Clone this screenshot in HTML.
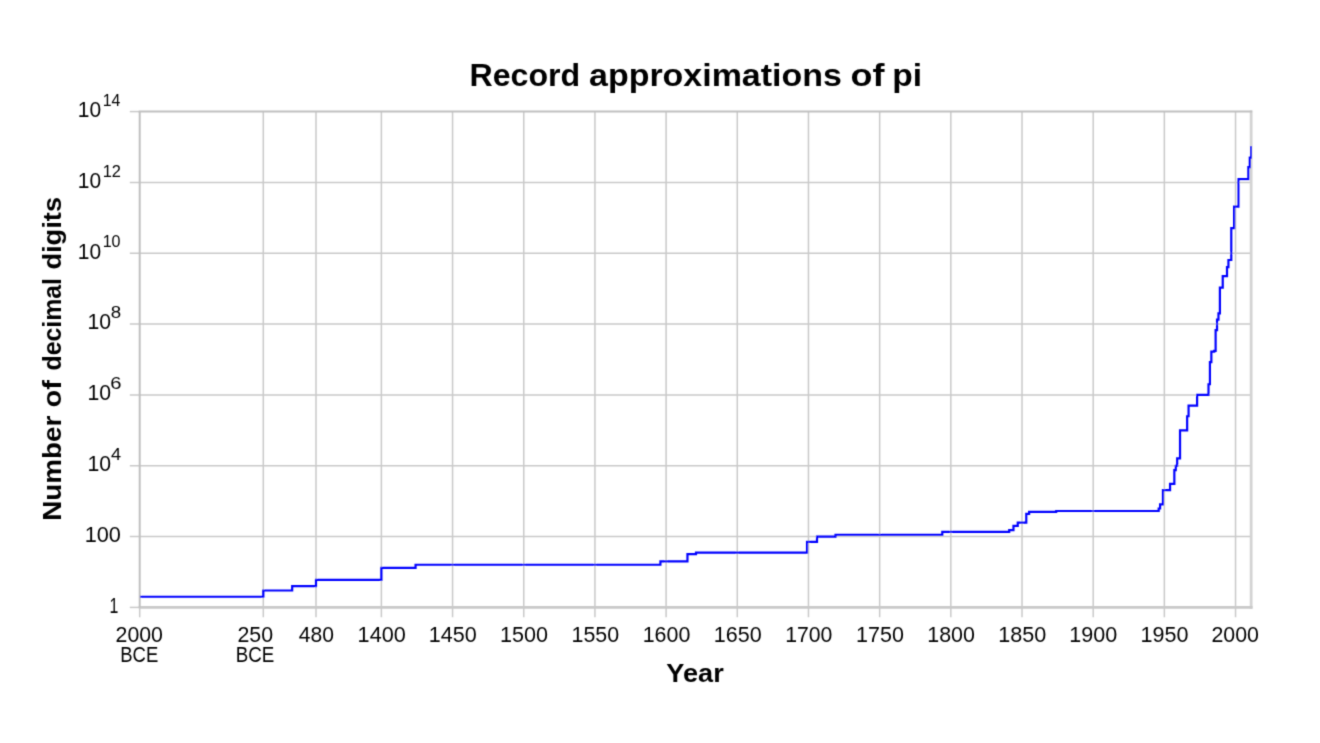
<!DOCTYPE html>
<html><head><meta charset="utf-8"><title>Record approximations of pi</title>
<style>
html,body{margin:0;padding:0;background:#fff;}
body{width:1320px;height:743px;overflow:hidden;font-family:"Liberation Sans",sans-serif;}
svg{display:block;}
text{font-family:"Liberation Sans",sans-serif;fill:#000;}
.t{font-size:21.5px;}
.s{font-size:16.6px;}
.ttl{font-size:31px;font-weight:bold;fill:#000;}
.ax{font-size:25px;font-weight:bold;fill:#000;}
</style></head><body>
<svg width="1320" height="743" viewBox="0 0 1320 743">
<rect width="1320" height="743" fill="#fff"/>
<filter id="bl" x="0" y="0" width="1320" height="743" filterUnits="userSpaceOnUse"><feConvolveMatrix order="3" kernelMatrix="0.0225 0.1050 0.0225 0.1050 0.4900 0.1050 0.0225 0.1050 0.0225" divisor="1" edgeMode="duplicate"/></filter>
<g filter="url(#bl)">
<line x1="129.8" x2="139.7" y1="607.40" y2="607.40" stroke="#c9c9c9" stroke-width="1.5"/>
<line x1="129.8" x2="1251.2" y1="536.57" y2="536.57" stroke="#c9c9c9" stroke-width="1.5"/>
<line x1="129.8" x2="1251.2" y1="465.74" y2="465.74" stroke="#c9c9c9" stroke-width="1.5"/>
<line x1="129.8" x2="1251.2" y1="394.91" y2="394.91" stroke="#c9c9c9" stroke-width="1.5"/>
<line x1="129.8" x2="1251.2" y1="324.09" y2="324.09" stroke="#c9c9c9" stroke-width="1.5"/>
<line x1="129.8" x2="1251.2" y1="253.26" y2="253.26" stroke="#c9c9c9" stroke-width="1.5"/>
<line x1="129.8" x2="1251.2" y1="182.43" y2="182.43" stroke="#c9c9c9" stroke-width="1.5"/>
<line x1="129.8" x2="139.7" y1="111.60" y2="111.60" stroke="#c9c9c9" stroke-width="1.5"/>
<line x1="139.70" x2="139.70" y1="607.4" y2="617.3" stroke="#c9c9c9" stroke-width="1.5"/>
<line x1="263.30" x2="263.30" y1="111.6" y2="617.3" stroke="#c9c9c9" stroke-width="1.5"/>
<line x1="316.00" x2="316.00" y1="111.6" y2="617.3" stroke="#c9c9c9" stroke-width="1.5"/>
<line x1="381.39" x2="381.39" y1="111.6" y2="617.3" stroke="#c9c9c9" stroke-width="1.5"/>
<line x1="452.57" x2="452.57" y1="111.6" y2="617.3" stroke="#c9c9c9" stroke-width="1.5"/>
<line x1="523.75" x2="523.75" y1="111.6" y2="617.3" stroke="#c9c9c9" stroke-width="1.5"/>
<line x1="594.93" x2="594.93" y1="111.6" y2="617.3" stroke="#c9c9c9" stroke-width="1.5"/>
<line x1="666.11" x2="666.11" y1="111.6" y2="617.3" stroke="#c9c9c9" stroke-width="1.5"/>
<line x1="737.29" x2="737.29" y1="111.6" y2="617.3" stroke="#c9c9c9" stroke-width="1.5"/>
<line x1="808.47" x2="808.47" y1="111.6" y2="617.3" stroke="#c9c9c9" stroke-width="1.5"/>
<line x1="879.65" x2="879.65" y1="111.6" y2="617.3" stroke="#c9c9c9" stroke-width="1.5"/>
<line x1="950.83" x2="950.83" y1="111.6" y2="617.3" stroke="#c9c9c9" stroke-width="1.5"/>
<line x1="1022.01" x2="1022.01" y1="111.6" y2="617.3" stroke="#c9c9c9" stroke-width="1.5"/>
<line x1="1093.19" x2="1093.19" y1="111.6" y2="617.3" stroke="#c9c9c9" stroke-width="1.5"/>
<line x1="1164.37" x2="1164.37" y1="111.6" y2="617.3" stroke="#c9c9c9" stroke-width="1.5"/>
<line x1="1235.55" x2="1235.55" y1="111.6" y2="617.3" stroke="#c9c9c9" stroke-width="1.5"/>
<line x1="1251.15" x2="1251.15" y1="110.60" y2="608.70" stroke="#d3d3d3" stroke-width="2.8"/>
<line x1="138.70" x2="1252.55" y1="607.40" y2="607.40" stroke="#c9c9c9" stroke-width="2.7"/>
<line x1="138.70" x2="1252.15" y1="111.50" y2="111.50" stroke="#c0c0c0" stroke-width="2"/>
<line x1="139.70" x2="139.70" y1="111.60" y2="607.40" stroke="#c0c0c0" stroke-width="2"/>
<clipPath id="c"><rect x="140.1" y="106.6" width="1111.7" height="505.8"/></clipPath>
<path d="M139.90 596.74H263.30V590.50H292.18V586.08H316.00V579.84H381.39V567.95H415.56V564.76H660.42V561.32H687.46V554.10H696.01V552.72H807.05V541.84H817.01V536.57H835.52V534.83H942.29V531.84H1009.20V530.13H1013.47V525.91H1017.74V522.60H1026.28V513.78H1029.13V511.82H1056.18V511.01H1158.68V508.51H1160.10V504.44H1162.95V490.21H1170.06V483.81H1174.34V470.21H1175.76V465.74H1177.18V458.35H1180.03V430.29H1187.15V416.24H1188.57V405.58H1197.11V394.90H1208.50V384.25H1209.93V362.20H1211.35V351.54H1214.20V350.87H1215.62V330.22H1217.04V319.56H1218.47V313.32H1219.89V287.58H1222.74V276.13H1227.01V267.18H1228.43V260.02H1231.28V228.04H1234.13V206.72H1238.40V179.11H1248.36V167.15H1249.79V157.68H1251.21V147.01" fill="none" stroke="#0000ff" stroke-width="2.2" stroke-linejoin="miter" stroke-linecap="square" clip-path="url(#c)"/>
<text x="469.47" y="86.30" textLength="110.77" lengthAdjust="spacingAndGlyphs" class="ttl">Record</text>
<text x="589.00" y="86.30" textLength="252.90" lengthAdjust="spacingAndGlyphs" class="ttl">approximations</text>
<text x="850.51" y="86.30" textLength="33.97" lengthAdjust="spacingAndGlyphs" class="ttl">of</text>
<text x="892.21" y="86.30" textLength="29.82" lengthAdjust="spacingAndGlyphs" class="ttl">pi</text>
<text x="666.38" y="681.60" textLength="57.35" lengthAdjust="spacingAndGlyphs" class="ax">Year</text>
<text transform="translate(60.60,520.75) rotate(-90)" textLength="104.95" lengthAdjust="spacingAndGlyphs" class="ax">Number</text>
<text transform="translate(60.60,407.40) rotate(-90)" textLength="27.44" lengthAdjust="spacingAndGlyphs" class="ax">of</text>
<text transform="translate(60.60,370.40) rotate(-90)" textLength="92.35" lengthAdjust="spacingAndGlyphs" class="ax">decimal</text>
<text transform="translate(60.60,269.60) rotate(-90)" textLength="72.69" lengthAdjust="spacingAndGlyphs" class="ax">digits</text>
<text x="115.59" y="642.00" textLength="47.38" lengthAdjust="spacingAndGlyphs" class="t">2000</text>
<text x="120.22" y="661.50" textLength="38.00" lengthAdjust="spacingAndGlyphs" class="t">BCE</text>
<text x="237.44" y="642.00" textLength="35.63" lengthAdjust="spacingAndGlyphs" class="t">250</text>
<text x="235.63" y="661.50" textLength="38.61" lengthAdjust="spacingAndGlyphs" class="t">BCE</text>
<text x="298.74" y="642.00" textLength="35.18" lengthAdjust="spacingAndGlyphs" class="t">480</text>
<text x="357.63" y="642.00" textLength="48.13" lengthAdjust="spacingAndGlyphs" class="t">1400</text>
<text x="428.74" y="642.00" textLength="47.91" lengthAdjust="spacingAndGlyphs" class="t">1450</text>
<text x="499.94" y="642.00" textLength="47.99" lengthAdjust="spacingAndGlyphs" class="t">1500</text>
<text x="571.51" y="642.00" textLength="47.61" lengthAdjust="spacingAndGlyphs" class="t">1550</text>
<text x="642.71" y="642.00" textLength="47.60" lengthAdjust="spacingAndGlyphs" class="t">1600</text>
<text x="713.79" y="642.00" textLength="47.85" lengthAdjust="spacingAndGlyphs" class="t">1650</text>
<text x="785.16" y="642.00" textLength="47.23" lengthAdjust="spacingAndGlyphs" class="t">1700</text>
<text x="856.05" y="642.00" textLength="47.79" lengthAdjust="spacingAndGlyphs" class="t">1750</text>
<text x="927.26" y="642.00" textLength="47.65" lengthAdjust="spacingAndGlyphs" class="t">1800</text>
<text x="998.22" y="642.00" textLength="48.05" lengthAdjust="spacingAndGlyphs" class="t">1850</text>
<text x="1069.30" y="642.00" textLength="47.92" lengthAdjust="spacingAndGlyphs" class="t">1900</text>
<text x="1140.55" y="642.00" textLength="47.93" lengthAdjust="spacingAndGlyphs" class="t">1950</text>
<text x="1211.41" y="642.00" textLength="47.51" lengthAdjust="spacingAndGlyphs" class="t">2000</text>
<text x="109.53" y="612.70" textLength="8.85" lengthAdjust="spacingAndGlyphs" class="t">1</text>
<text x="84.66" y="541.77" textLength="36.17" lengthAdjust="spacingAndGlyphs" class="t">100</text>
<text x="87.42" y="471.14" textLength="23.62" lengthAdjust="spacingAndGlyphs" class="t">10</text>
<text x="111.01" y="459.94" textLength="10.10" lengthAdjust="spacingAndGlyphs" class="s">4</text>
<text x="87.42" y="400.31" textLength="23.62" lengthAdjust="spacingAndGlyphs" class="t">10</text>
<text x="110.31" y="389.11" textLength="11.24" lengthAdjust="spacingAndGlyphs" class="s">6</text>
<text x="87.42" y="329.49" textLength="23.62" lengthAdjust="spacingAndGlyphs" class="t">10</text>
<text x="110.73" y="318.29" textLength="10.41" lengthAdjust="spacingAndGlyphs" class="s">8</text>
<text x="77.76" y="258.66" textLength="23.34" lengthAdjust="spacingAndGlyphs" class="t">10</text>
<text x="102.65" y="247.46" textLength="17.89" lengthAdjust="spacingAndGlyphs" class="s">10</text>
<text x="77.76" y="187.83" textLength="23.34" lengthAdjust="spacingAndGlyphs" class="t">10</text>
<text x="102.70" y="176.63" textLength="18.25" lengthAdjust="spacingAndGlyphs" class="s">12</text>
<text x="77.76" y="117.00" textLength="23.34" lengthAdjust="spacingAndGlyphs" class="t">10</text>
<text x="102.74" y="105.80" textLength="17.60" lengthAdjust="spacingAndGlyphs" class="s">14</text>
</g>
</svg>
</body></html>
